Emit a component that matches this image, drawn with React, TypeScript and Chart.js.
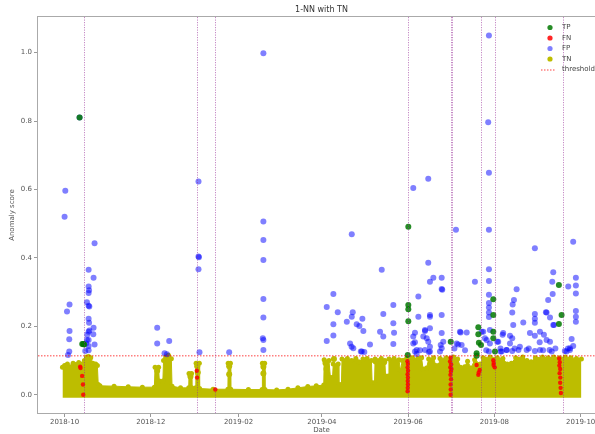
import React, { useEffect, useRef } from 'react';
import { Chart, registerables } from 'chart.js';

Chart.register(...registerables);

// x values are days counted from 2018-10-01
const X_MIN = -18.8;
const X_MAX = 382.2;
const Y_MIN = -0.0535;
const Y_MAX = 1.104;

const xTickDays = [0, 61, 123, 182, 243, 304, 365];
const xTickLabels = ['2018-10', '2018-12', '2019-02', '2019-04', '2019-06', '2019-08', '2019-10'];
const yTickValues = [0, 0.2, 0.4, 0.6, 0.8, 1.0];

const titleText = '1-NN with TN';
const xAxisLabel = 'Date';
const yAxisLabel = 'Anomaly score';

const thresholdValue = 0.114;
const anomalyLineDays = [13.7, 93.6, 106.7, 243, 273.3, 274.3, 294.3, 304.4, 352.4];

const tpPoints: [number, number][] = [
  [10.6, 0.81], [12.5, 0.148], [13.2, 0.148], [13.8, 0.147],
  [243.1, 0.491], [243.1, 0.262], [243.1, 0.25], [243.1, 0.215], [242.7, 0.116],
  [273.1, 0.155], [292.6, 0.197], [292.6, 0.177], [293, 0.152], [291.4, 0.121], [291.4, 0.114], [294.5, 0.145],
  [303.2, 0.279], [303.2, 0.233], [303.2, 0.184], [303.2, 0.165], [304.4, 0.126],
  [349.6, 0.321], [351.5, 0.233], [349.6, 0.207],
];

const fnPoints: [number, number][] = [
  [11.0, 0.082], [11.3, 0.078], [12.4, 0.055], [13.0, 0.03], [13.2, 0.0],
  [93.5, 0.07], [93.7, 0.05], [106.6, 0.015],
  [242.5, 0.098], [242.8, 0.09], [242.6, 0.08], [242.9, 0.07], [242.6, 0.06], [242.8, 0.05], [242.7, 0.04], [242.8, 0.03], [242.7, 0.02], [242.6, 0.01],
  [273.0, 0.108], [272.6, 0.097], [273.4, 0.088], [272.8, 0.08], [273.6, 0.075], [273.2, 0.068], [272.9, 0.058], [273.3, 0.045], [273.0, 0.03], [273.1, 0.015], [273.0, 0.0],
  [291.4, 0.087], [293.6, 0.072], [292.6, 0.058], [292.9, 0.065],
  [303.2, 0.101], [303.5, 0.093], [303.4, 0.087], [304.2, 0.08],
  [349.8, 0.106], [350.2, 0.095], [349.9, 0.085], [350.5, 0.075], [350.1, 0.063], [350.6, 0.05], [350.5, 0.035], [350.8, 0.02], [351, 0.005],
];

const fpPoints: [number, number][] = [
  [0.0, 0.52], [0.5, 0.596], [3.5, 0.264], [1.7, 0.243], [3.5, 0.186], [3.3, 0.162], [3.3, 0.126], [2.4, 0.116],
  [21.2, 0.443], [17.0, 0.365], [20.5, 0.342], [17.0, 0.316], [17.3, 0.305], [17.0, 0.297], [15.8, 0.27], [17.0, 0.26],
  [17.5, 0.258], [17.0, 0.222], [17.3, 0.21], [20.5, 0.196], [20.3, 0.177], [17.0, 0.184], [17.5, 0.188], [17.0, 0.16],
  [15.3, 0.15], [21.2, 0.147], [17.0, 0.142], [14.6, 0.128], [17.0, 0.13], [16.0, 0.175], [15.8, 0.16], [10.6, 0.81],
  [65.5, 0.196], [65.5, 0.15], [74, 0.157], [70.7, 0.121], [72.4, 0.118],
  [94.7, 0.623], [94.7, 0.404], [95.0, 0.402], [94.7, 0.367], [95.4, 0.124], [116.4, 0.124],
  [140.6, 0.998], [140.6, 0.506], [140.6, 0.452], [140.6, 0.394], [140.6, 0.28], [140.6, 0.226], [140.2, 0.165], [140.6, 0.16], [140.6, 0.131],
  [203.1, 0.469], [224.3, 0.365], [190.1, 0.294], [185.4, 0.256], [193.2, 0.241], [203.8, 0.241], [203.1, 0.228], [210.6, 0.222],
  [199.6, 0.213], [206.6, 0.206], [208.5, 0.201], [190.1, 0.206], [211.3, 0.186], [190.1, 0.173], [185.4, 0.157], [201.9, 0.15],
  [204.2, 0.136], [209.5, 0.126], [216, 0.147], [225.4, 0.236], [232.5, 0.262], [232.5, 0.209], [233, 0.181], [223.1, 0.184],
  [225.4, 0.17], [232.5, 0.148], [203, 0.14], [210.2, 0.126], [212, 0.125],
  [250.2, 0.287], [250.2, 0.228], [247.8, 0.181], [246.6, 0.17], [247.8, 0.153], [247.8, 0.126], [246.6, 0.604], [257.2, 0.631],
  [257.2, 0.386], [258.4, 0.33], [260.8, 0.342], [266.7, 0.342], [266.7, 0.309], [267.1, 0.307], [258.4, 0.233], [258.4, 0.228],
  [258.4, 0.194], [254.9, 0.186], [256.1, 0.165], [257.2, 0.155], [258.4, 0.14], [258.4, 0.126], [266.7, 0.233], [266.7, 0.18],
  [267.8, 0.155], [266.7, 0.136], [265.5, 0.126], [254.9, 0.189], [253.7, 0.17], [246.6, 0.15], [249, 0.131], [254.9, 0.131],
  [249, 0.119], [251.4, 0.13], [257.6, 0.125], [266, 0.145],
  [276.8, 0.482], [280.1, 0.182], [284.4, 0.182], [278.4, 0.147], [290.2, 0.33], [279.6, 0.184], [280.8, 0.145], [277.3, 0.15],
  [275.7, 0.135], [283.2, 0.13], [295, 0.184], [297.3, 0.165], [298.2, 0.13],
  [300.1, 1.05], [299.6, 0.796], [300.1, 0.649], [300.1, 0.482], [300.1, 0.367], [300.1, 0.332], [300.1, 0.292], [300.1, 0.268],
  [300.1, 0.255], [300.1, 0.24], [300.1, 0.227], [300.8, 0.189], [298.5, 0.16], [300.8, 0.15], [300.1, 0.126], [306, 0.155],
  [308.4, 0.126], [296.1, 0.184], [310.2, 0.18], [306.7, 0.155], [309.1, 0.126], [312.6, 0.131], [308.3, 0.135],
  [332.6, 0.428], [345.6, 0.358], [344.9, 0.33], [345.2, 0.294], [342, 0.277], [340.4, 0.241], [345.6, 0.204], [359.7, 0.447],
  [361.6, 0.342], [361.6, 0.319], [361.6, 0.296], [361.6, 0.245], [361.6, 0.228], [361.6, 0.213], [356.2, 0.316], [358.6, 0.163],
  [357.4, 0.136], [353.8, 0.128], [319.7, 0.308], [317.8, 0.277], [316.9, 0.264], [316.6, 0.24], [317.3, 0.204], [324.4, 0.211],
  [332.6, 0.236], [332.6, 0.222], [332.6, 0.21], [340.9, 0.24], [343.3, 0.226], [346.1, 0.204], [359.7, 0.142], [357.4, 0.131],
  [355, 0.126], [309.8, 0.175], [315, 0.172], [316.6, 0.165], [315, 0.15], [322, 0.14], [329.1, 0.18], [332.6, 0.172],
  [336.2, 0.184], [339, 0.175], [340.9, 0.16], [343.3, 0.155], [336, 0.153], [326.8, 0.131], [332.6, 0.128], [336.2, 0.131],
  [343, 0.131], [344.5, 0.126], [312.6, 0.131], [316.6, 0.128], [321, 0.131], [318.3, 0.135], [328.3, 0.135], [338.4, 0.13],
  [347.1, 0.135], [356, 0.135],
];

// isolated TN markers standing out of the dense band
const tnPoints: [number, number][] = [
  [16.5, 0.1], [65.5, 0.07], [72.0, 0.104], [73.5, 0.106], [89, 0.053], [93.8, 0.083], [94.2, 0.065],
  [116.4, 0.083], [116.4, 0.06], [140.6, 0.082], [140.6, 0.062], [184.5, 0.093], [185.2, 0.075],
  [190.5, 0.104], [200, 0.097], [220, 0.097], [226, 0.095], [241, 0.1],
];

// dense TN band: upper envelope (day, visible top)
const tnBandDays = [
  -1.5, 0, 2, 4, 6, 8, 10, 12, 14, 15.5, 17, 18.5, 20, 22, 23.2, 23.8, 25, 35, 45, 55, 63.5, 64, 66.5, 67, 69.5, 70, 71.5,
  73.5, 75.5, 76, 82, 87.8, 88, 89.8, 90, 92.8, 93, 95.3, 95.5, 105, 115.5, 115.7, 117.3, 117.5, 130, 139.7, 139.9, 141.5,
  141.7, 150, 158, 165, 172, 178, 183.3, 183.6, 187, 188, 189.5, 190, 193.5, 194, 195.8, 196.2, 200, 203, 206, 208, 211,
  214, 217, 217.5, 219.2, 219.6, 224, 226.5, 227, 229, 229.4, 233, 236.5, 237.5, 238.8, 242, 246, 250, 252.5, 253.5, 256,
  257.5, 261, 262.5, 264.5, 265.5, 270, 275, 278, 280, 283, 285, 287.5, 290, 294, 296, 301, 306, 310, 313, 316, 319, 324,
  327, 330, 333, 338, 342, 346, 350, 354, 358, 362, 365.5,
];
const tnBandTops = [
  0.08, 0.085, 0.09, 0.082, 0.092, 0.088, 0.094, 0.09, 0.1, 0.11, 0.112, 0.108, 0.092, 0.09, 0.085, 0.03, 0.026, 0.025, 0.023,
  0.022, 0.022, 0.08, 0.08, 0.04, 0.04, 0.1, 0.11, 0.115, 0.105, 0.025, 0.02, 0.02, 0.062, 0.062, 0.02, 0.02, 0.092, 0.092,
  0.018, 0.016, 0.016, 0.092, 0.092, 0.016, 0.015, 0.015, 0.092, 0.092, 0.015, 0.014, 0.016, 0.02, 0.024, 0.026, 0.028,
  0.102, 0.1, 0.05, 0.05, 0.09, 0.09, 0.03, 0.03, 0.104, 0.106, 0.1, 0.106, 0.096, 0.104, 0.106, 0.1, 0.035, 0.035, 0.104,
  0.106, 0.1, 0.055, 0.055, 0.104, 0.106, 0.102, 0.07, 0.1, 0.106, 0.108, 0.106, 0.108, 0.075, 0.078, 0.104, 0.108, 0.085,
  0.085, 0.106, 0.108, 0.11, 0.104, 0.08, 0.082, 0.098, 0.078, 0.102, 0.09, 0.108, 0.11, 0.108, 0.106, 0.09, 0.092, 0.108,
  0.11, 0.1, 0.096, 0.108, 0.11, 0.108, 0.11, 0.108, 0.11, 0.108, 0.106, 0.104,
];
const tnBandBottom = -0.009;

const FONT = '"DejaVu Sans", "Liberation Sans", sans-serif';
const TP_COLOR = 'rgba(0,120,0,0.85)';
const FN_COLOR = 'rgba(255,0,0,0.85)';
const FP_COLOR = 'rgba(0,0,255,0.5)';
const TN_COLOR = 'rgb(189,189,0)';
const THR_COLOR = 'rgba(255,0,0,0.5)';
const VLINE_COLOR = 'rgba(150,40,150,0.55)';

const toXY = (pts: [number, number][]) => pts.map(([x, y]) => ({ x, y }));

const decorPlugin = {
  id: 'decor',
  afterDatasetsDraw(chart: any) {
    const { ctx, chartArea: a, scales } = chart;
    const xs = scales.x;
    ctx.save();
    ctx.beginPath();
    ctx.rect(a.left, a.top, a.right - a.left, a.bottom - a.top);
    ctx.clip();
    ctx.strokeStyle = VLINE_COLOR;
    ctx.lineWidth = 1;
    ctx.setLineDash([1.2, 1.3]);
    anomalyLineDays.forEach((d) => {
      const px = Math.round(xs.getPixelForValue(d)) + 0.5;
      ctx.beginPath();
      ctx.moveTo(px, a.top);
      ctx.lineTo(px, a.bottom);
      ctx.stroke();
    });
    ctx.restore();

    // frame
    ctx.save();
    ctx.strokeStyle = '#aaaaaa';
    ctx.lineWidth = 1;
    ctx.strokeRect(Math.round(a.left) - 0.5, Math.round(a.top) - 0.5, Math.round(a.right - a.left) + 1, Math.round(a.bottom - a.top) + 1);
    ctx.restore();
  },
  afterDraw(chart: any) {
    const { ctx, chartArea: a } = chart;
    const cx = (a.left + a.right) / 2;
    ctx.save();
    ctx.fillStyle = '#333';
    ctx.textAlign = 'center';
    ctx.textBaseline = 'middle';
    ctx.font = `8px ${FONT}`;
    ctx.fillText(titleText, cx, 10);
    ctx.font = `7px ${FONT}`;
    ctx.fillStyle = '#555';
    ctx.fillText(xAxisLabel, cx, 430);
    ctx.save();
    ctx.translate(12, (a.top + a.bottom) / 2);
    ctx.rotate(-Math.PI / 2);
    ctx.fillText(yAxisLabel, 0, 0);
    ctx.restore();

    // legend
    const items = chart.data.datasets.filter((ds: any) => !String(ds.label).startsWith('_'));
    const mx = a.right - 55;
    const tx = a.right - 43;
    let y = a.top + 10.5;
    ctx.textAlign = 'left';
    ctx.font = `7px ${FONT}`;
    items.forEach((ds: any) => {
      if (ds.type === 'line') {
        ctx.save();
        ctx.strokeStyle = ds.borderColor;
        ctx.lineWidth = 1.5;
        ctx.setLineDash([1.5, 1.5]);
        ctx.beginPath();
        ctx.moveTo(mx - 9, y + 0.5);
        ctx.lineTo(mx + 5, y + 0.5);
        ctx.stroke();
        ctx.restore();
      } else {
        ctx.beginPath();
        ctx.fillStyle = ds.backgroundColor;
        ctx.arc(mx, y, 2.6, 0, Math.PI * 2);
        ctx.fill();
      }
      ctx.fillStyle = '#444';
      ctx.fillText(ds.label, tx, y);
      y += 10.5;
    });
    ctx.restore();
  },
};

export default function App() {
  const ref = useRef<HTMLCanvasElement>(null);

  useEffect(() => {
    const scatterBase = { type: 'scatter', pointRadius: 3, pointBorderWidth: 0, pointHoverRadius: 3, showLine: false };
    const chart = new Chart(ref.current as HTMLCanvasElement, {
      type: 'scatter',
      data: {
        datasets: [
          { ...scatterBase, label: 'TP', data: toXY(tpPoints), backgroundColor: TP_COLOR, borderColor: TP_COLOR, order: 1 },
          { ...scatterBase, label: 'FN', data: toXY(fnPoints), backgroundColor: FN_COLOR, borderColor: FN_COLOR, pointRadius: 2.2, order: 2 },
          { ...scatterBase, label: 'FP', data: toXY(fpPoints), backgroundColor: FP_COLOR, borderColor: FP_COLOR, order: 3 },
          { ...scatterBase, label: 'TN', data: toXY(tnPoints), backgroundColor: TN_COLOR, borderColor: TN_COLOR, order: 5 },
          {
            type: 'line',
            label: 'thresholds',
            data: [{ x: X_MIN, y: thresholdValue }, { x: X_MAX, y: thresholdValue }],
            borderColor: THR_COLOR,
            backgroundColor: THR_COLOR,
            borderWidth: 1.5,
            borderDash: [1.5, 1.5],
            pointRadius: 0,
            showLine: true,
            fill: false,
            order: 0,
          },
          {
            type: 'line',
            label: '_tnBand',
            data: tnBandDays.map((d, i) => ({ x: d, y: tnBandTops[i] })),
            borderColor: TN_COLOR,
            backgroundColor: TN_COLOR,
            borderWidth: 1,
            pointRadius: 2.5,
            pointBorderWidth: 0,
            pointBackgroundColor: TN_COLOR,
            showLine: true,
            tension: 0,
            fill: { value: tnBandBottom },
            order: 6,
          },
        ] as any,
      },
      options: {
        animation: false,
        responsive: false,
        devicePixelRatio: 1,
        events: [],
        layout: { padding: { top: 17, right: 15, left: 0, bottom: 0 } },
        plugins: { legend: { display: false }, title: { display: false }, tooltip: { enabled: false } },
        scales: {
          x: {
            type: 'linear',
            min: X_MIN,
            max: X_MAX,
            afterBuildTicks: (s: any) => { s.ticks = xTickDays.map((v) => ({ value: v })); },
            afterFit: (s: any) => { s.height = 21; },
            ticks: {
              callback: (_v: any, i: number) => xTickLabels[i],
              autoSkip: false,
              maxRotation: 0,
              padding: 1,
              color: '#555',
              font: { family: FONT, size: 7 },
            },
            grid: { drawOnChartArea: false, drawTicks: true, tickLength: 4, color: '#999' },
            border: { display: false },
          },
          y: {
            type: 'linear',
            min: Y_MIN,
            max: Y_MAX,
            afterBuildTicks: (s: any) => { s.ticks = yTickValues.map((v) => ({ value: v })); },
            afterFit: (s: any) => { s.width = 38; },
            ticks: {
              callback: (v: any) => Number(v).toFixed(1),
              padding: 2,
              color: '#555',
              font: { family: FONT, size: 7 },
            },
            grid: { drawOnChartArea: false, drawTicks: true, tickLength: 4, color: '#999' },
            border: { display: false },
          },
        },
      } as any,
      plugins: [decorPlugin],
    });
    return () => chart.destroy();
  }, []);

  return (
    <div style={{ position: 'fixed', left: 0, top: 0, width: 595, height: 434, overflow: 'hidden', background: '#fff' }}>
      <canvas ref={ref} width={620} height={434} style={{ width: 620, height: 434, display: 'block' }} />
    </div>
  );
}
